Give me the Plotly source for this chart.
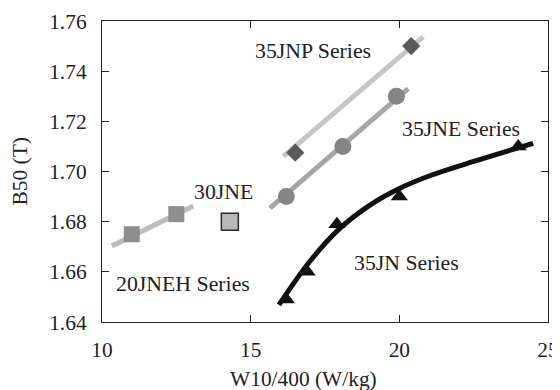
import plotly.graph_objects as go

# 35JNP series
jnp_x = [16.5, 20.4]
jnp_y = [1.7075, 1.750]
jnp_fit_x = [16.1, 20.8]
jnp_fit_y = [1.706, 1.7537]

# 35JNE series
jne_x = [16.2, 18.1, 19.9]
jne_y = [1.690, 1.710, 1.730]
jne_fit_x = [15.65, 20.3]
jne_fit_y = [1.6854, 1.733]

# 20JNEH series
jneh_x = [11.0, 12.5]
jneh_y = [1.675, 1.683]
jneh_fit_x = [10.33, 13.07]
jneh_fit_y = [1.6703, 1.6862]

# 30JNE
jne30_x = [14.3]
jne30_y = [1.680]

# 35JN series
jn_x = [16.2, 16.9, 17.9, 20.0, 24.0]
jn_y = [1.649, 1.660, 1.679, 1.690, 1.710]
jn_fit_x = [15.95, 17.0, 18.0, 19.0, 20.0, 21.0, 22.5, 24.5]
jn_fit_y = [1.6468, 1.6643, 1.6773, 1.6865, 1.6932, 1.6982, 1.7040, 1.7112]

x_ticks = [10, 15, 20, 25]
y_ticks = [1.64, 1.66, 1.68, 1.70, 1.72, 1.74, 1.76]

labels = ["35JNP Series", "35JNE Series", "30JNE", "20JNEH Series", "35JN Series"]
label_x = [17.10, 22.08, 14.07, 12.74, 20.24]
label_y = [1.748, 1.7169, 1.6918, 1.6551, 1.6635]

FONT = "Liberation Serif"
TXT = "#222222"
LBL_SIZE = 21.8
AX_SIZE = 21.4

# page body has an 8px margin; size the figure so the plot lands where the reference has it
OFF = 8
W, H = 560 - OFF, 390 - OFF
PL, PR, PT, PB = 102, 548, 21, 322   # plot-area edges in window pixels
PW, PH = PR - PL, PB - PT

fig = go.Figure()
fig.add_trace(go.Scatter(x=jnp_fit_x, y=jnp_fit_y, mode="lines",
                         line=dict(color="#c6c6c6", width=5)))
fig.add_trace(go.Scatter(x=jnp_x, y=jnp_y, mode="markers",
                         marker=dict(symbol="diamond", size=14, color="#5a5a5a")))
fig.add_trace(go.Scatter(x=jne_fit_x, y=jne_fit_y, mode="lines",
                         line=dict(color="#a6a6a6", width=5)))
fig.add_trace(go.Scatter(x=jne_x, y=jne_y, mode="markers",
                         marker=dict(symbol="circle", size=17, color="#858585")))
fig.add_trace(go.Scatter(x=jneh_fit_x, y=jneh_fit_y, mode="lines",
                         line=dict(color="#bdbdbd", width=5)))
fig.add_trace(go.Scatter(x=jneh_x, y=jneh_y, mode="markers",
                         marker=dict(symbol="square", size=16, color="#8e8e8e")))
fig.add_trace(go.Scatter(x=jne30_x, y=jne30_y, mode="markers",
                         marker=dict(symbol="square", size=17, color="#b8b8b8",
                                     line=dict(color="#2a2a2a", width=1.5))))
fig.add_trace(go.Scatter(x=jn_fit_x, y=jn_fit_y, mode="lines",
                         line=dict(color="#111111", width=5, shape="spline", smoothing=1.0)))
fig.add_trace(go.Scatter(x=jn_x, y=jn_y, mode="markers",
                         marker=dict(symbol="triangle-up", size=15, color="#111111")))

for t, xx, yy in zip(labels, label_x, label_y):
    fig.add_annotation(x=xx, y=yy, text=t, showarrow=False,
                       font=dict(family=FONT, size=LBL_SIZE, color=TXT))

# axis titles (placed to match reference positions)
fig.add_annotation(x=(303 - PL) / PW, y=-(379 - PB) / PH, xref="paper", yref="paper",
                   text="W10/400 (W/kg)", showarrow=False, xanchor="center", yanchor="middle",
                   font=dict(family=FONT, size=AX_SIZE, color=TXT))
fig.add_annotation(x=-(PL - 19) / PW, y=0.5, xref="paper", yref="paper",
                   text="B50 (T)", showarrow=False, textangle=-90, xanchor="center", yanchor="middle",
                   font=dict(family=FONT, size=AX_SIZE, color=TXT))

fig.update_layout(
    width=W, height=H,
    margin=dict(l=PL - OFF, r=560 - PR, t=PT - OFF, b=390 - PB, autoexpand=False),
    plot_bgcolor="white", paper_bgcolor="white",
    showlegend=False,
    font=dict(family=FONT, size=AX_SIZE, color=TXT),
)
fig.update_xaxes(range=[10, 25], tickvals=x_ticks, ticktext=[str(v) for v in x_ticks],
                 showgrid=False, zeroline=False, showline=True, linecolor="#222222", linewidth=1.2,
                 mirror="ticks", ticks="inside", ticklen=7, tickcolor="#222222",
                 ticklabelstandoff=8, automargin=False,
                 tickfont=dict(family=FONT, size=AX_SIZE, color=TXT))
fig.update_yaxes(range=[1.64, 1.76], tickvals=y_ticks, ticktext=[f"{v:.2f}" for v in y_ticks],
                 showgrid=False, zeroline=False, showline=True, linecolor="#222222", linewidth=1.2,
                 mirror="ticks", ticks="inside", ticklen=7, tickcolor="#222222",
                 ticklabelstandoff=10, automargin=False,
                 tickfont=dict(family=FONT, size=AX_SIZE, color=TXT))

fig.write_html("out.html")
